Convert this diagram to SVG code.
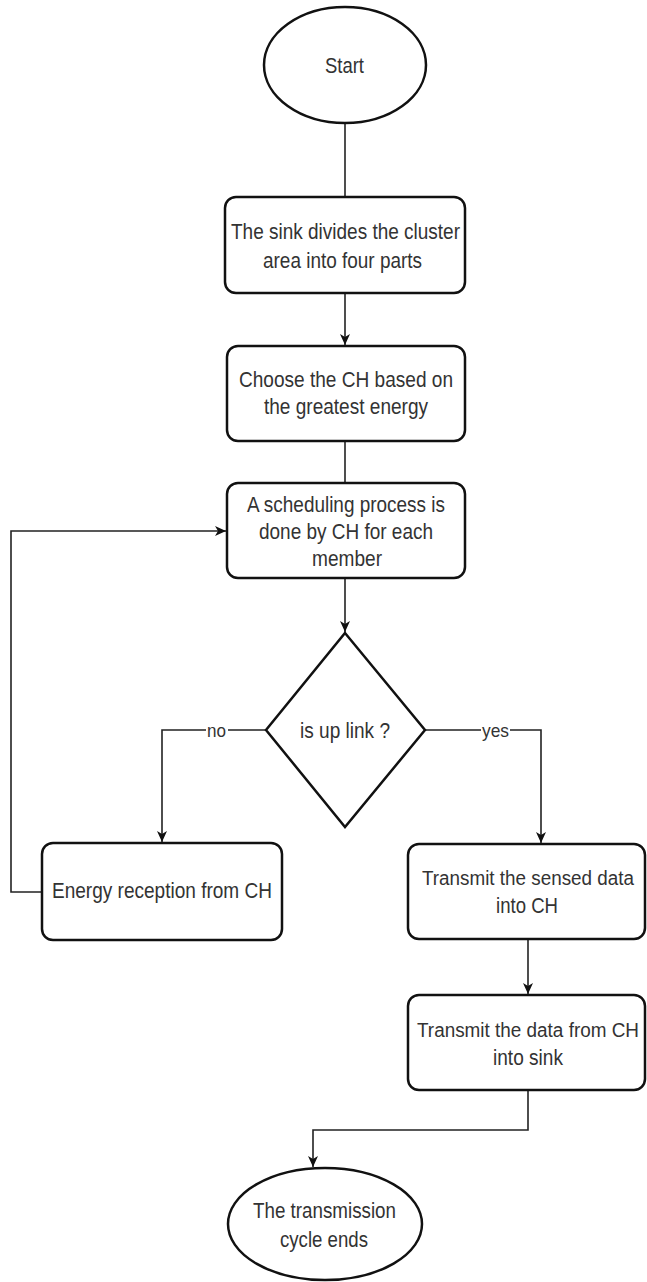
<svg xmlns="http://www.w3.org/2000/svg" width="647" height="1282" viewBox="0 0 647 1282">
<style>
.shape{fill:#fff;stroke:#111;stroke-width:2.5}
.edge{fill:none;stroke:#222;stroke-width:1.6}
.t{font-family:"Liberation Sans",Arial,sans-serif;font-size:22px;fill:#333}
.ts{font-family:"Liberation Sans",Arial,sans-serif;font-size:19.5px;fill:#333}
.lbl{font-family:"Liberation Sans",Arial,sans-serif;font-size:19px;fill:#333}
</style>
<defs>
<marker id="arr" markerUnits="userSpaceOnUse" markerWidth="12" markerHeight="12" viewBox="0 0 12 12" refX="11" refY="6" orient="auto">
<path d="M0,1 L11,6 L0,11 L3,6 z" fill="#111"/>
</marker>
</defs>
<rect width="647" height="1282" fill="#fff"/>
<g id="connectors">
<path class="edge" d="M345,123 V197"/>
<path class="edge" d="M345,293 V345" marker-end="url(#arr)"/>
<path class="edge" d="M345,441 V483"/>
<path class="edge" d="M345,578 V632" marker-end="url(#arr)"/>
<path class="edge" d="M266,730 H162 V842" marker-end="url(#arr)"/>
<path class="edge" d="M425,730 H541 V843" marker-end="url(#arr)"/>
<path class="edge" d="M42,892 H11 V531 H226" marker-end="url(#arr)"/>
<path class="edge" d="M528,939 V994" marker-end="url(#arr)"/>
<path class="edge" d="M528,1090 V1130 H313 V1167" marker-end="url(#arr)"/>
<rect x="206" y="720" width="22" height="20" fill="#fff"/>
<text class="lbl" x="207" y="737" textLength="19" lengthAdjust="spacingAndGlyphs">no</text>
<rect x="481" y="720" width="29" height="20" fill="#fff"/>
<text class="lbl" x="482" y="737" textLength="27" lengthAdjust="spacingAndGlyphs">yes</text>
</g>
<g id="start">
<ellipse class="shape" cx="345" cy="65" rx="81" ry="58"/>
<text class="t" x="325" y="73" textLength="39" lengthAdjust="spacingAndGlyphs">Start</text>
</g>
<g id="divide">
<rect class="shape" x="225" y="197" width="240" height="96" rx="11"/>
<text class="t" x="231" y="239" textLength="229" lengthAdjust="spacingAndGlyphs">The sink divides the cluster</text>
<text class="t" x="263" y="268" textLength="159" lengthAdjust="spacingAndGlyphs">area into four parts</text>
</g>
<g id="choose">
<rect class="shape" x="227" y="346" width="238" height="95" rx="11"/>
<text class="t" x="239" y="387" textLength="214" lengthAdjust="spacingAndGlyphs">Choose the CH based on</text>
<text class="t" x="264" y="414" textLength="164" lengthAdjust="spacingAndGlyphs">the greatest energy</text>
</g>
<g id="schedule">
<rect class="shape" x="227" y="483" width="238" height="95" rx="11"/>
<text class="t" x="247" y="512" textLength="198" lengthAdjust="spacingAndGlyphs">A scheduling process is</text>
<text class="t" x="259" y="539" textLength="174" lengthAdjust="spacingAndGlyphs">done by CH for each</text>
<text class="t" x="312" y="566" textLength="70" lengthAdjust="spacingAndGlyphs">member</text>
</g>
<g id="decision">
<polygon class="shape" points="345,633 425,730 345,827 266,730"/>
<text class="t" x="300" y="738" textLength="90" lengthAdjust="spacingAndGlyphs">is up link ?</text>
</g>
<g id="energy">
<rect class="shape" x="42" y="843" width="240" height="97" rx="11"/>
<text class="t" x="52" y="898" textLength="220" lengthAdjust="spacingAndGlyphs">Energy reception from CH</text>
</g>
<g id="transmit-sensed">
<rect class="shape" x="408" y="844" width="237" height="95" rx="11"/>
<text class="ts" x="422" y="885" textLength="212" lengthAdjust="spacingAndGlyphs">Transmit the sensed data</text>
<text class="t" x="496" y="913" textLength="62" lengthAdjust="spacingAndGlyphs">into CH</text>
</g>
<g id="transmit-sink">
<rect class="shape" x="408" y="995" width="237" height="95" rx="11"/>
<text class="ts" x="417" y="1037" textLength="222" lengthAdjust="spacingAndGlyphs">Transmit the data from CH</text>
<text class="t" x="493" y="1065" textLength="70" lengthAdjust="spacingAndGlyphs">into sink</text>
</g>
<g id="end">
<ellipse class="shape" cx="325" cy="1224" rx="97" ry="56"/>
<text class="t" x="253" y="1218" textLength="143" lengthAdjust="spacingAndGlyphs">The transmission</text>
<text class="t" x="280" y="1247" textLength="88" lengthAdjust="spacingAndGlyphs">cycle ends</text>
</g>
</svg>
